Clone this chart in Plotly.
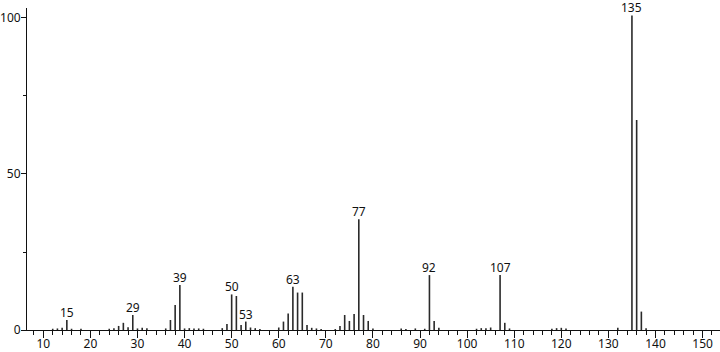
import plotly.graph_objects as go

mz = [12, 13, 14, 15, 16, 18, 24, 25, 26, 27, 28, 29, 30, 31, 32, 36, 37, 38, 39, 40, 41, 42, 43, 44,
      48, 49, 50, 51, 52, 53, 54, 55, 56, 60, 61, 62, 63, 64, 65, 66, 67, 68, 69,
      72, 73, 74, 75, 76, 77, 78, 79, 80, 86, 87, 89, 91, 92, 93, 94,
      102, 103, 104, 105, 107, 108, 109, 118, 119, 120, 121, 132, 135, 136, 137, 138]
intensity = [0.4, 0.5, 0.7, 3.2, 0.4, 0.4, 0.4, 0.6, 1.3, 2.3, 0.9, 4.8, 0.5, 0.7, 0.6, 0.5, 3.2, 8.0, 14.4, 0.5, 0.6, 0.5, 0.5, 0.4,
             0.6, 1.9, 11.4, 10.9, 1.6, 2.7, 0.8, 0.6, 0.3, 0.8, 2.7, 5.3, 13.9, 12.0, 12.0, 1.6, 0.7, 0.5, 0.3,
             0.3, 1.3, 4.8, 2.9, 5.1, 35.5, 4.8, 2.9, 0.5, 0.5, 0.3, 0.5, 0.4, 17.6, 2.9, 0.7,
             0.4, 0.6, 0.6, 0.8, 17.6, 2.3, 0.5, 0.4, 0.6, 0.7, 0.5, 0.7, 100.8, 67.3, 5.9, 0.6]
labeled = [15, 29, 39, 50, 53, 63, 77, 92, 107, 135]
x_ticks = [10, 20, 30, 40, 50, 60, 70, 80, 90, 100, 110, 120, 130, 140, 150]
y_ticks = [0, 50, 100]

FONT = "Noto Sans"

xs, ys = [], []
for m, h in zip(mz, intensity):
    xs += [m, m, None]
    ys += [0, h, None]

fig = go.Figure()
fig.add_trace(go.Scatter(x=xs, y=ys, mode="lines", line=dict(color="#2a2a2a", width=1.6),
                         hoverinfo="skip", showlegend=False))

for m in labeled:
    h = intensity[mz.index(m)]
    fig.add_annotation(x=m, y=h, text=str(m), showarrow=False, yanchor="bottom", yshift=-3,
                       font=dict(size=12, color="#111", family=FONT))

fig.update_xaxes(range=[6.54, 153.7], tickvals=x_ticks, ticktext=[str(v) for v in x_ticks],
                 ticks="outside", ticklen=7, tickwidth=1, tickcolor="#111", automargin=False,
                 ticklabelstandoff=-4,
                 minor=dict(dtick=2, tick0=0, ticks="outside", ticklen=4, tickcolor="#111", tickwidth=1),
                 showline=True, linecolor="#111", linewidth=1, showgrid=False, zeroline=False,
                 tickfont=dict(size=12, color="#111", family=FONT))
fig.update_yaxes(range=[0, 103.2], tickvals=y_ticks, ticks="outside", ticklen=5, tickwidth=1, tickcolor="#111",
                 automargin=False, ticklabelstandoff=-2,
                 minor=dict(tickvals=[25, 75], ticks="outside", ticklen=3, tickcolor="#111", tickwidth=1),
                 showline=True, linecolor="#111", linewidth=1, showgrid=False, zeroline=False,
                 tickfont=dict(size=12, color="#111", family=FONT))
fig.update_layout(width=720, height=352, margin=dict(l=27, r=0, t=8, b=22, autoexpand=False),
                  plot_bgcolor="white", paper_bgcolor="white")
fig.write_html("out.html")
